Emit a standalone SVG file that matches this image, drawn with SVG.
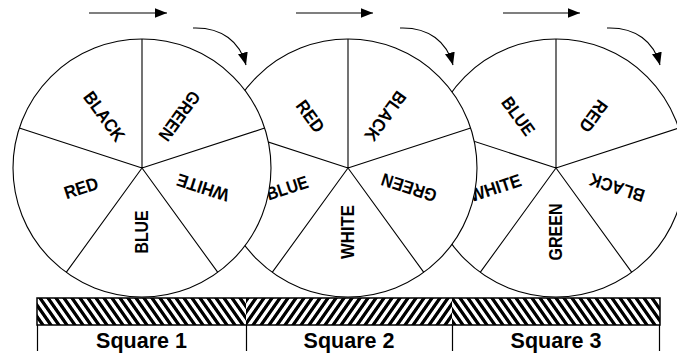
<svg xmlns="http://www.w3.org/2000/svg" width="677" height="354" viewBox="0 0 677 354">
<style>
.rim{fill:#fff;stroke:#000;stroke-width:1.1}
.spoke{stroke:#000;stroke-width:1.1;fill:none}
.lbl{font-family:"Liberation Sans",Arial,sans-serif;font-weight:bold;font-size:18px;fill:#000;text-anchor:middle}
.sq{font-family:"Liberation Sans",Arial,sans-serif;font-weight:bold;font-size:21.5px;fill:#000;text-anchor:middle}
.arr{stroke:#000;stroke-width:1.1;fill:none;marker-end:url(#ah)}
.div{stroke:#000;stroke-width:1.2}
</style>
<defs>
<marker id="ah" markerUnits="userSpaceOnUse" markerWidth="14" markerHeight="11" refX="12.5" refY="5" orient="auto">
<path d="M0,0 L12.5,5 L0,10 z" fill="#000"/>
</marker>
<pattern id="h1" patternUnits="userSpaceOnUse" width="8" height="10" patternTransform="translate(246,298) skewX(35)">
<rect x="0" y="0" width="8" height="10" fill="#fff"/><rect x="0" y="0" width="4" height="10" fill="#000"/>
</pattern>
<pattern id="h2" patternUnits="userSpaceOnUse" width="8" height="10" patternTransform="translate(246,298) skewX(-35)">
<rect x="0" y="0" width="8" height="10" fill="#fff"/><rect x="0" y="0" width="4" height="10" fill="#000"/>
</pattern>
<pattern id="h3" patternUnits="userSpaceOnUse" width="8" height="10" patternTransform="translate(658,298) skewX(35)">
<rect x="0" y="0" width="8" height="10" fill="#fff"/><rect x="0" y="0" width="4" height="10" fill="#000"/>
</pattern>
</defs>
<rect x="0" y="0" width="677" height="354" fill="#fff"/>

<g id="wheel3" transform="translate(556,168)">
<circle class="rim" cx="0" cy="0" r="129"/>
<path class="spoke" d="M0,0 L0,-129 M0,0 L122.7,-39.9 M0,0 L75.8,104.4 M0,0 L-75.8,104.4 M0,0 L-122.7,-39.9"/>
<text class="lbl" transform="translate(-37.6,-51.8) rotate(54)" y="6.4" textLength="43" lengthAdjust="spacingAndGlyphs">BLUE</text>
<text class="lbl" transform="translate(37.6,-51.8) rotate(126)" y="6.4" textLength="35" lengthAdjust="spacingAndGlyphs">RED</text>
<text class="lbl" transform="translate(60.9,19.8) rotate(198)" y="6.4" textLength="57" lengthAdjust="spacingAndGlyphs">BLACK</text>
<text class="lbl" transform="translate(0,64) rotate(270)" y="6.4" textLength="57" lengthAdjust="spacingAndGlyphs">GREEN</text>
<text class="lbl" transform="translate(-60.9,19.8) rotate(342)" y="6.4" textLength="54" lengthAdjust="spacingAndGlyphs">WHITE</text>
</g>

<g id="wheel2" transform="translate(348,168)">
<circle class="rim" cx="0" cy="0" r="129"/>
<path class="spoke" d="M0,0 L0,-129 M0,0 L122.7,-39.9 M0,0 L75.8,104.4 M0,0 L-75.8,104.4 M0,0 L-122.7,-39.9"/>
<text class="lbl" transform="translate(-37.6,-51.8) rotate(54)" y="6.4" textLength="35" lengthAdjust="spacingAndGlyphs">RED</text>
<text class="lbl" transform="translate(37.6,-51.8) rotate(126)" y="6.4" textLength="57" lengthAdjust="spacingAndGlyphs">BLACK</text>
<text class="lbl" transform="translate(60.9,19.8) rotate(198)" y="6.4" textLength="57" lengthAdjust="spacingAndGlyphs">GREEN</text>
<text class="lbl" transform="translate(0,64) rotate(270)" y="6.4" textLength="54" lengthAdjust="spacingAndGlyphs">WHITE</text>
<text class="lbl" transform="translate(-60.9,19.8) rotate(342)" y="6.4" textLength="43" lengthAdjust="spacingAndGlyphs">BLUE</text>
</g>

<g id="wheel1" transform="translate(142,168)">
<circle class="rim" cx="0" cy="0" r="129"/>
<path class="spoke" d="M0,0 L0,-129 M0,0 L122.7,-39.9 M0,0 L75.8,104.4 M0,0 L-75.8,104.4 M0,0 L-122.7,-39.9"/>
<text class="lbl" transform="translate(-37.6,-51.8) rotate(54)" y="6.4" textLength="57" lengthAdjust="spacingAndGlyphs">BLACK</text>
<text class="lbl" transform="translate(37.6,-51.8) rotate(126)" y="6.4" textLength="57" lengthAdjust="spacingAndGlyphs">GREEN</text>
<text class="lbl" transform="translate(60.9,19.8) rotate(198)" y="6.4" textLength="54" lengthAdjust="spacingAndGlyphs">WHITE</text>
<text class="lbl" transform="translate(0,64) rotate(270)" y="6.4" textLength="43" lengthAdjust="spacingAndGlyphs">BLUE</text>
<text class="lbl" transform="translate(-60.9,19.8) rotate(342)" y="6.4" textLength="35" lengthAdjust="spacingAndGlyphs">RED</text>
</g>

<g id="connectors">
<path class="arr" d="M89,13 L167,13"/>
<path class="arr" d="M296,13 L373,13"/>
<path class="arr" d="M503,13 L580,13"/>
<path class="arr" d="M193,28 C222,27 240,42 246,65"/>
<path class="arr" d="M400,28 C429,27 447,42 453,65"/>
<path class="arr" d="M607,28 C636,27 654,42 660,65"/>
</g>

<g id="square1">
<rect x="37" y="298" width="209" height="27" fill="url(#h1)"/>
<text class="sq" x="141.5" y="348">Square 1</text>
</g>
<g id="square2">
<rect x="246" y="298" width="206" height="27" fill="url(#h2)"/>
<text class="sq" x="349" y="348">Square 2</text>
</g>
<g id="square3">
<rect x="452" y="298" width="208" height="27" fill="url(#h3)"/>
<text class="sq" x="556" y="348">Square 3</text>
</g>
<g id="track">
<rect x="37" y="298" width="623" height="27" fill="none" stroke="#000" stroke-width="1.5"/>
<path class="div" d="M37.5,325 L37.5,351 M246.5,325 L246.5,351 M452.5,325 L452.5,351 M659.5,325 L659.5,351"/>
</g>
</svg>
